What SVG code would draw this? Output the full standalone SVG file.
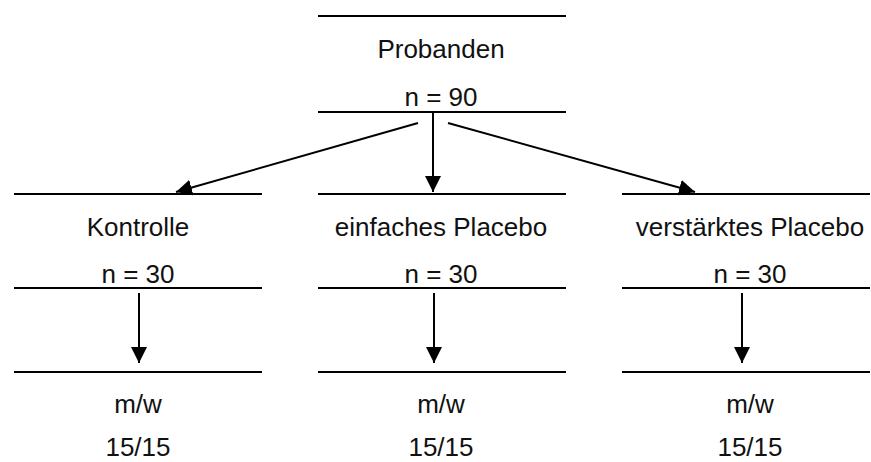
<svg xmlns="http://www.w3.org/2000/svg" width="871" height="462" viewBox="0 0 871 462">
  <style>
    .rule { stroke: #000; stroke-width: 2; fill: none; }
    .label { font-family: "Liberation Sans", Arial, sans-serif; font-size: 26px; fill: #111; text-anchor: middle; }
    .link { stroke: #000; stroke-width: 2; fill: none; marker-end: url(#head); }
  </style>
  <defs>
    <marker id="head" markerUnits="userSpaceOnUse" markerWidth="16" markerHeight="16" viewBox="0 0 16 16" refX="16" refY="8" orient="auto">
      <path d="M0,0 L16,8 L0,16 Z" fill="#000"/>
    </marker>
  </defs>
  <rect width="871" height="462" fill="#fff"/>

  <g id="probanden">
    <line class="rule" x1="318" y1="16" x2="566" y2="16"/>
    <text class="label" x="441" y="58">Probanden</text>
    <text class="label" x="441" y="106">n = 90</text>
    <line class="rule" x1="318" y1="112" x2="566" y2="112"/>
  </g>

  <g id="kontrolle">
    <line class="rule" x1="14" y1="194" x2="262" y2="194"/>
    <text class="label" x="138" y="236">Kontrolle</text>
    <text class="label" x="138" y="283">n = 30</text>
    <line class="rule" x1="14" y1="288" x2="262" y2="288"/>
  </g>

  <g id="einfach">
    <line class="rule" x1="318" y1="194" x2="566" y2="194"/>
    <text class="label" x="441" y="236">einfaches Placebo</text>
    <text class="label" x="441" y="283">n = 30</text>
    <line class="rule" x1="318" y1="288" x2="566" y2="288"/>
  </g>

  <g id="verstaerkt">
    <line class="rule" x1="622" y1="194" x2="870" y2="194"/>
    <text class="label" x="750" y="236">verstärktes Placebo</text>
    <text class="label" x="750" y="283">n = 30</text>
    <line class="rule" x1="622" y1="288" x2="870" y2="288"/>
  </g>

  <g id="kontrolle-mw">
    <line class="rule" x1="14" y1="372" x2="262" y2="372"/>
    <text class="label" x="138" y="413">m/w</text>
    <text class="label" x="138" y="456">15/15</text>
  </g>

  <g id="einfach-mw">
    <line class="rule" x1="318" y1="372" x2="566" y2="372"/>
    <text class="label" x="441" y="413">m/w</text>
    <text class="label" x="441" y="456">15/15</text>
  </g>

  <g id="verstaerkt-mw">
    <line class="rule" x1="622" y1="372" x2="870" y2="372"/>
    <text class="label" x="750" y="413">m/w</text>
    <text class="label" x="750" y="456">15/15</text>
  </g>

  <g id="connectors">
    <line class="link" x1="418" y1="123" x2="176" y2="192"/>
    <line class="link" x1="433" y1="113" x2="433" y2="192"/>
    <line class="link" x1="448" y1="123" x2="695" y2="192"/>
    <line class="link" x1="139" y1="293" x2="139" y2="363"/>
    <line class="link" x1="434" y1="293" x2="434" y2="363"/>
    <line class="link" x1="742" y1="293" x2="742" y2="363"/>
  </g>
</svg>
